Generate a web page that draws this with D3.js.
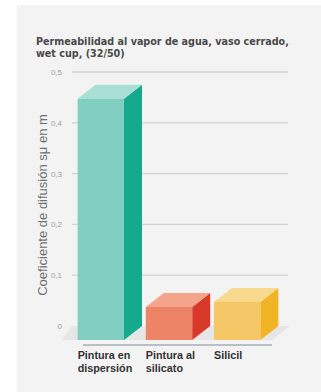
<!DOCTYPE html>
<html>
<head>
<meta charset="utf-8">
<script src="https://cdn.jsdelivr.net/npm/d3@7"></script>
<style>
  body { margin: 0; background: #fff; }
  text { font-family: "Liberation Sans", Arial, sans-serif; }
</style>
</head>
<body>
<div id="chart"></div>
<script>
// data
var categories = ["Pintura en dispersión", "Pintura al silicato", "Silicil"];
var labelLines = [["Pintura en", "dispersión"], ["Pintura al", "silicato"], ["Silicil"]];
var values = [0.475, 0.065, 0.075];
var ticks = [0, 0.1, 0.2, 0.3, 0.4, 0.5];
var frontColors = ["#80cfc1", "#ee8466", "#f5c766"];
var sideColors = ["#15a98e", "#d9392b", "#f1b424"];
var topColors = ["#a9e0d5", "#f3a48b", "#f8da8f"];

var W = 321, H = 392;
var dx = 18, dy = 14; // depth of the 3d boxes

var svg = d3.select("#chart").append("svg").attr("width", W).attr("height", H);

// panel
svg.append("rect").attr("x", 17).attr("y", 5).attr("width", W - 17).attr("height", H - 5).attr("fill", "#f3f3f3");

var y = d3.scaleLinear().domain([0, 0.5]).range([326, 72]);
var x = d3.scaleBand().domain(categories).range([82, 292]).paddingInner(0.32).paddingOuter(0.2);

// title
svg.append("text").attr("x", 36).attr("y", 45).style("font-family", "'DejaVu Sans', sans-serif")
  .style("font-size", "9.6px").style("font-weight", 700).attr("fill", "#4a4a4a")
  .selectAll("tspan").data(["Permeabilidad al vapor de agua, vaso cerrado,", "wet cup, (32/50)"]).enter()
  .append("tspan").attr("x", 36).attr("dy", function (d, i) { return i ? 11.5 : 0; }).text(function (d) { return d; });

// gridlines on the back wall
svg.append("g").selectAll("line").data(ticks.filter(function (t) { return t > 0; })).enter().append("line")
  .attr("x1", 72).attr("x2", 288).attr("y1", function (d) { return y(d); }).attr("y2", function (d) { return y(d); })
  .attr("stroke", "#d2d2d2").attr("stroke-width", 1.3);

// tick labels
svg.append("g").selectAll("text").data(ticks).enter().append("text")
  .attr("x", 62).attr("y", function (d) { return y(d) + 3; }).attr("text-anchor", "end")
  .attr("font-size", 8).attr("fill", "#a0a0a0")
  .text(function (d) { return d3.format(".1f")(d).replace(".", ",").replace(/^0,0$/, "0"); });

// y axis title
svg.append("text").attr("transform", "translate(47,205) rotate(-90)").attr("text-anchor", "middle")
  .attr("font-size", 13).attr("fill", "#707070").text("Coeficiente de difusión sμ en m");

// floor
var f0 = y(0);
svg.append("path")
  .attr("d", "M72," + f0 + "L290," + f0 + "L" + (290 - dx) + "," + (f0 + dy) + "L" + (72 - dx + 8) + "," + (f0 + dy) + "Z")
  .attr("fill", "#e6e6e6");

// bars
var bars = svg.append("g").selectAll("g").data(values).enter().append("g");

bars.append("path").attr("fill", function (d, i) { return sideColors[i]; })
  .attr("d", function (d, i) {
    var bx = x(categories[i]) + x.bandwidth(), fx = bx - dx;
    return "M" + fx + "," + (y(d) + dy) + "L" + bx + "," + y(d) + "L" + bx + "," + y(0) + "L" + fx + "," + (y(0) + dy) + "Z";
  });

bars.append("path").attr("fill", function (d, i) { return topColors[i]; })
  .attr("d", function (d, i) {
    var bx = x(categories[i]), w = x.bandwidth();
    return "M" + (bx - dx) + "," + (y(d) + dy) + "L" + bx + "," + y(d) + "L" + (bx + w) + "," + y(d) + "L" + (bx + w - dx) + "," + (y(d) + dy) + "Z";
  });

bars.append("rect").attr("fill", function (d, i) { return frontColors[i]; })
  .attr("x", function (d, i) { return x(categories[i]) - dx; })
  .attr("y", function (d) { return y(d) + dy; })
  .attr("width", x.bandwidth())
  .attr("height", function (d) { return y(0) - y(d); });

// axis line
svg.append("line").attr("x1", 83).attr("x2", 272).attr("y1", 345).attr("y2", 345)
  .attr("stroke", "#7f8b97").attr("stroke-width", 1.2);

// category labels
svg.append("g").selectAll("text").data(labelLines).enter().append("text")
  .attr("x", function (d, i) { return x(categories[i]) - dx; })
  .attr("y", 359).attr("font-size", 10.8).attr("font-weight", 700).attr("fill", "#333")
  .selectAll("tspan").data(function (d) { return d; }).enter().append("tspan")
  .attr("x", function () { return d3.select(this.parentNode).attr("x"); })
  .attr("dy", function (d, i) { return i ? 13 : 0; }).text(function (d) { return d; });
</script>
</body>
</html>
